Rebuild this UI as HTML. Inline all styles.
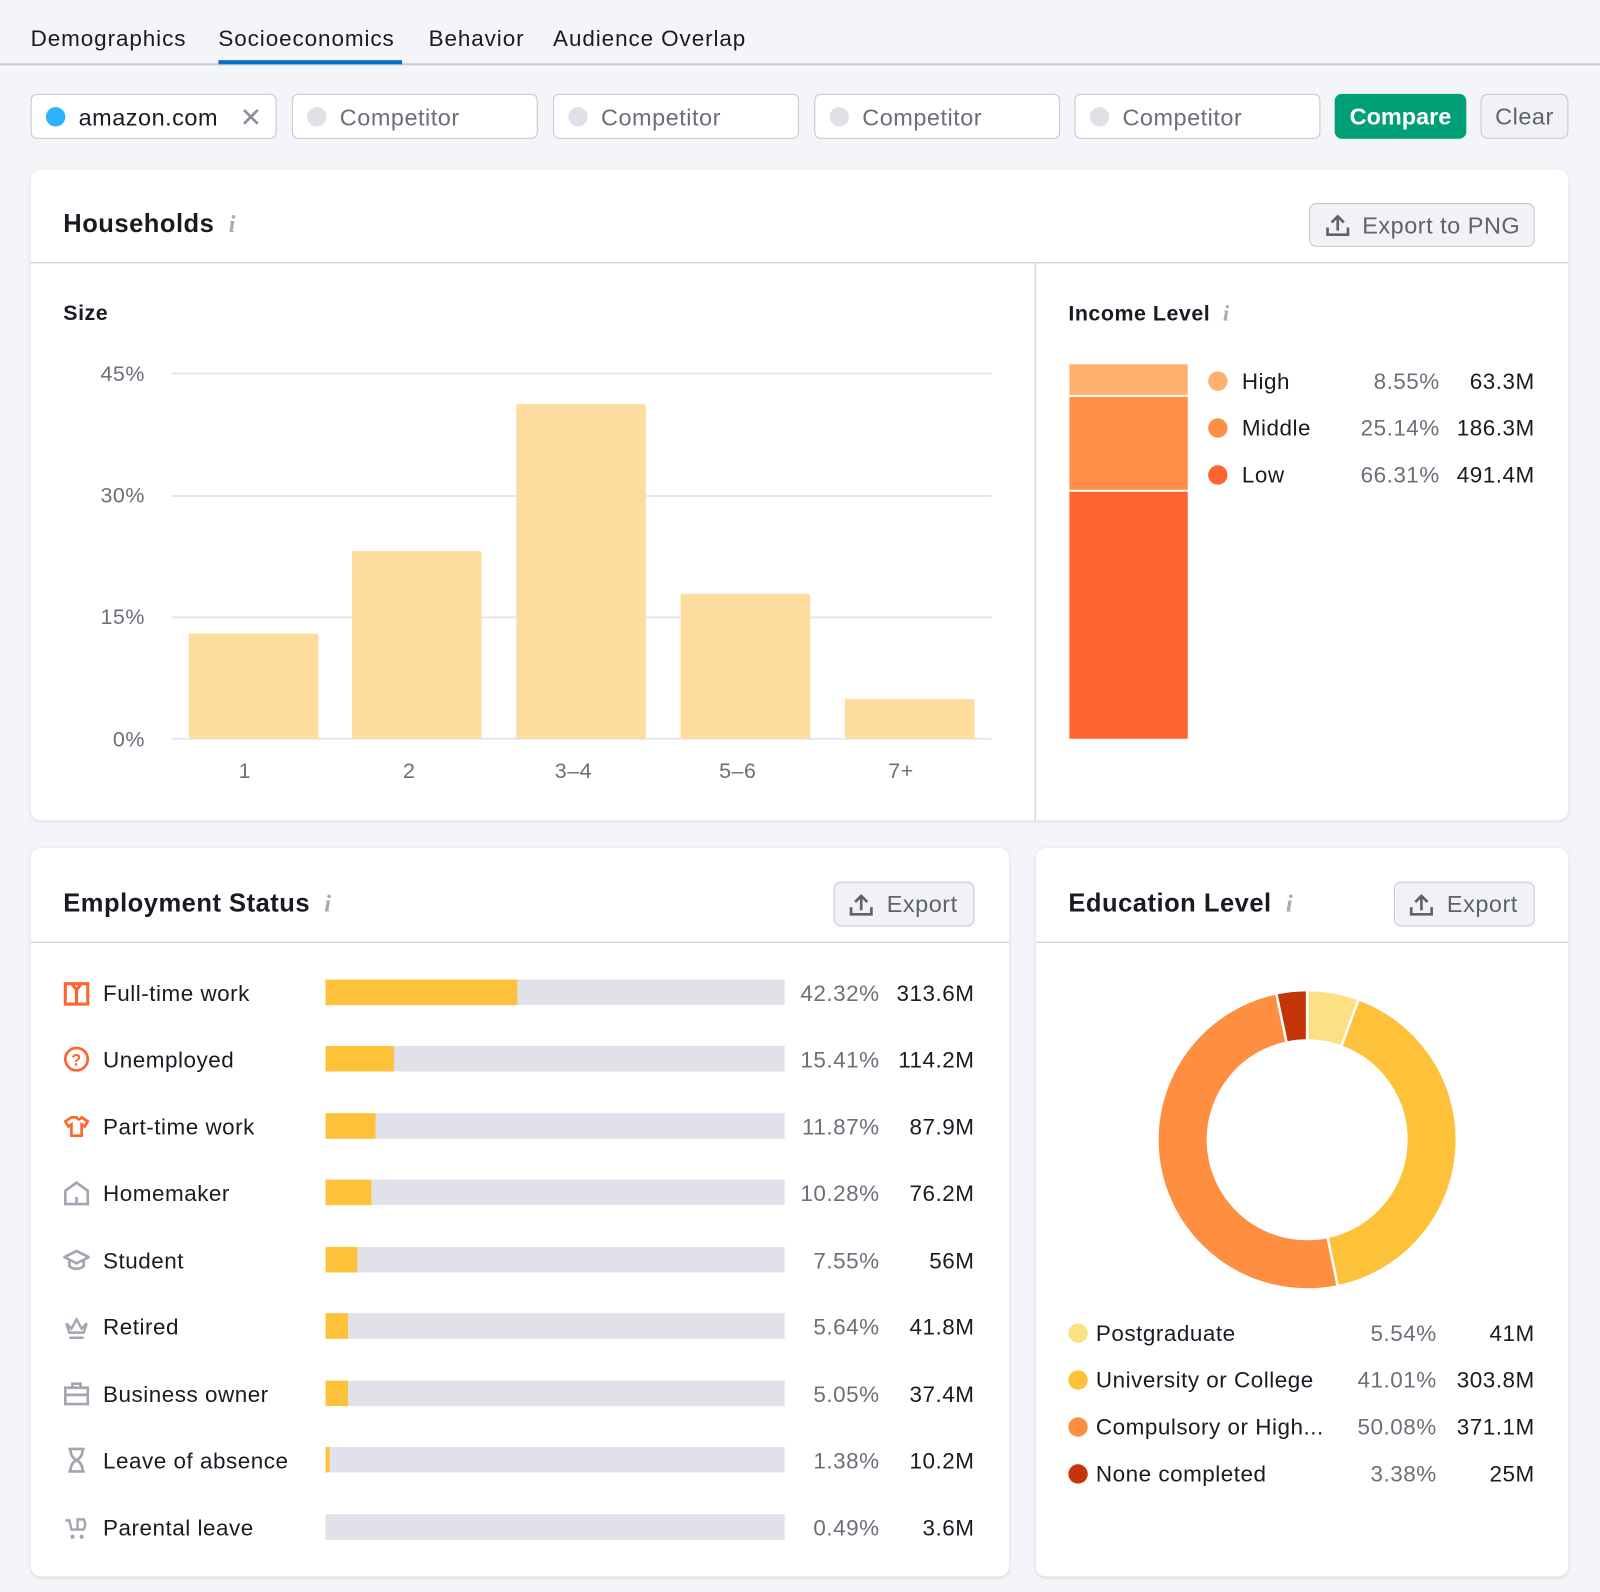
<!DOCTYPE html>
<html><head><meta charset="utf-8"><style>
*{margin:0;padding:0;box-sizing:border-box}
html,body{width:1600px;height:1592px;overflow:hidden;background:#f4f5f9}
#w{position:absolute;left:0;top:0;width:1568px;height:1560px;transform:scale(1.0204);transform-origin:0 0;font-family:"Liberation Sans",sans-serif;color:#191b23;letter-spacing:0.5px}
.a{position:absolute}
.t{position:absolute;white-space:nowrap;line-height:1;transform:translateY(-50%)}
.r{text-align:right}
.card{position:absolute;background:#fff;border-radius:10px;box-shadow:0 1px 3px rgba(0,0,0,.12)}
.hl{position:absolute;height:1px;background:#c4c7d0}
.inp{position:absolute;top:92px;height:44px;width:241px;background:#fff;border:1px solid #c4c7d0;border-radius:6px}
.inp .d{position:absolute;left:14px;top:12px;width:19px;height:19px;border-radius:50%;background:#dfe0e8}
.inp span{position:absolute;left:46px;top:9px;font-size:23px;color:#6c6e79}
.btn{position:absolute;background:#f1f2f6;border:1px solid #c4c7d0;border-radius:7px;color:#5f616d;font-size:23px}
.g{color:#6c6e79}
.bt{font-weight:bold;font-size:25px}
.info{font-style:italic;color:#a8aab4;font-family:"Liberation Serif",serif;font-size:24px}
.track{position:absolute;left:319px;width:450px;height:25px;background:#e0e1e9}
.track i{position:absolute;left:0;top:0;bottom:0;background:#fdc13a}
.dot{position:absolute;width:19px;height:19px;border-radius:50%}
</style></head><body><div id="w">
<div class="t" style="left:30px;top:38px;font-size:22px;letter-spacing:0.9px">Demographics</div>
<div class="t" style="left:214px;top:38px;font-size:22px;letter-spacing:0.9px">Socioeconomics</div>
<div class="t" style="left:420px;top:38px;font-size:22px;letter-spacing:0.9px">Behavior</div>
<div class="t" style="left:542px;top:38px;font-size:22px;letter-spacing:0.9px">Audience Overlap</div>
<div class="a" style="left:0;top:62px;width:1568px;height:2px;background:#c9ccd4"></div>
<div class="a" style="left:214px;top:59px;width:180px;height:4px;background:#006dca"></div>
<div class="inp" style="left:30px"><div class="d" style="background:#2bb3ff"></div><span style="color:#191b23">amazon.com</span><span style="left:204px;top:7px;font-size:26px;color:#8b8d98">✕</span></div>
<div class="inp" style="left:286px"><div class="d"></div><span>Competitor</span></div>
<div class="inp" style="left:542px"><div class="d"></div><span>Competitor</span></div>
<div class="inp" style="left:798px"><div class="d"></div><span>Competitor</span></div>
<div class="inp" style="left:1053px"><div class="d"></div><span>Competitor</span></div>
<div class="a" style="left:1308px;top:92px;width:129px;height:44px;background:#009f76;border-radius:7px;color:#fff;font-weight:bold;font-size:23px;text-align:center;line-height:44px;letter-spacing:0">Compare</div>
<div class="btn" style="left:1451px;top:92px;width:86px;height:44px;text-align:center;line-height:42px">Clear</div>

<div class="card" style="left:30px;top:166px;width:1507px;height:638px"></div>
<div class="t bt" style="left:62px;top:220px">Households <span class="info">&nbsp;i</span></div>
<div class="btn" style="left:1283px;top:199px;width:221px;height:43px"><svg class="a" style="left:14px;top:9px" width="26" height="24" viewBox="0 0 26 24"><path d="M13 17V3M7 9l6-6 6 6M3 14v7h20v-7" fill="none" stroke="#5f616d" stroke-width="2.6"/></svg><span class="a" style="left:51px;top:8px">Export to PNG</span></div>
<div class="hl" style="left:30px;top:257px;width:1507px"></div>
<div class="a" style="left:1014px;top:258px;width:1px;height:546px;background:#c4c7d0"></div>
<div class="t" style="left:62px;top:307px;font-weight:bold;font-size:21px">Size</div>
<div class="a" style="left:168px;top:365px;width:804px;height:2px;background:#e6e7ec"></div>
<div class="a" style="left:168px;top:485px;width:804px;height:2px;background:#e6e7ec"></div>
<div class="a" style="left:168px;top:604px;width:804px;height:2px;background:#e6e7ec"></div>
<div class="a" style="left:168px;top:723px;width:804px;height:2px;background:#e6e7ec"></div>
<div class="t r g" style="left:80px;width:62px;top:367px;font-size:21px">45%</div>
<div class="t r g" style="left:80px;width:62px;top:486px;font-size:21px">30%</div>
<div class="t r g" style="left:80px;width:62px;top:605px;font-size:21px">15%</div>
<div class="t r g" style="left:80px;width:62px;top:725px;font-size:21px">0%</div>
<div class="a" style="left:185px;top:621px;width:127px;height:103px;background:#fddc9e;border-radius:2px 2px 0 0"></div>
<div class="a" style="left:345px;top:540px;width:127px;height:184px;background:#fddc9e;border-radius:2px 2px 0 0"></div>
<div class="a" style="left:506px;top:396px;width:127px;height:328px;background:#fddc9e;border-radius:2px 2px 0 0"></div>
<div class="a" style="left:667px;top:582px;width:127px;height:142px;background:#fddc9e;border-radius:2px 2px 0 0"></div>
<div class="a" style="left:828px;top:685px;width:127px;height:39px;background:#fddc9e;border-radius:2px 2px 0 0"></div>
<div class="t g" style="left:185px;width:110px;top:756px;font-size:21px;text-align:center">1</div>
<div class="t g" style="left:345px;width:112px;top:756px;font-size:21px;text-align:center">2</div>
<div class="t g" style="left:506px;width:112px;top:756px;font-size:21px;text-align:center">3–4</div>
<div class="t g" style="left:667px;width:112px;top:756px;font-size:21px;text-align:center">5–6</div>
<div class="t g" style="left:828px;width:110px;top:756px;font-size:21px;text-align:center">7+</div>
<div class="t" style="left:1047px;top:307px;font-weight:bold;font-size:21px">Income Level <span class="info" style="font-size:22px">&nbsp;i</span></div>
<div class="a" style="left:1048px;top:357px;width:116px;height:30px;background:#ffb06e"></div>
<div class="a" style="left:1048px;top:389px;width:116px;height:91px;background:#ff8f45"></div>
<div class="a" style="left:1048px;top:482px;width:116px;height:242px;background:#ff6430"></div>
<div class="dot" style="left:1184px;top:364px;background:#ffb06e"></div>
<div class="dot" style="left:1184px;top:410px;background:#ff8f45"></div>
<div class="dot" style="left:1184px;top:456px;background:#ff6430"></div>
<div class="t" style="left:1217px;top:374px;font-size:22px">High</div>
<div class="t" style="left:1217px;top:420px;font-size:22px">Middle</div>
<div class="t" style="left:1217px;top:466px;font-size:22px">Low</div>
<div class="t r g" style="left:1300px;width:111px;top:374px;font-size:22px">8.55%</div>
<div class="t r g" style="left:1300px;width:111px;top:420px;font-size:22px">25.14%</div>
<div class="t r g" style="left:1300px;width:111px;top:466px;font-size:22px">66.31%</div>
<div class="t r" style="left:1404px;width:100px;top:374px;font-size:22px">63.3M</div>
<div class="t r" style="left:1404px;width:100px;top:420px;font-size:22px">186.3M</div>
<div class="t r" style="left:1404px;width:100px;top:466px;font-size:22px">491.4M</div>

<div class="card" style="left:30px;top:831px;width:959px;height:714px"></div>
<div class="t bt" style="left:62px;top:886px">Employment Status <span class="info">&nbsp;i</span></div>
<div class="btn" style="left:817px;top:864px;width:138px;height:44px"><svg class="a" style="left:13px;top:10px" width="26" height="24" viewBox="0 0 26 24"><path d="M13 17V3M7 9l6-6 6 6M3 14v7h20v-7" fill="none" stroke="#5f616d" stroke-width="2.6"/></svg><span class="a" style="left:51px;top:8px">Export</span></div>
<div class="hl" style="left:30px;top:923px;width:959px"></div>

<svg class="a" style="left:62px;top:961px" width="26" height="26" viewBox="0 0 26 26"><rect x="2" y="3" width="22" height="20" fill="none" stroke="#ff642f" stroke-width="3"/><path d="M8 3l5 6 5-6M13 9v14" fill="none" stroke="#ff642f" stroke-width="3"/></svg>
<svg class="a" style="left:62px;top:1025px" width="26" height="26" viewBox="0 0 26 26"><circle cx="13" cy="13" r="11" fill="none" stroke="#ff642f" stroke-width="2.6"/><text x="13" y="19" font-size="16" font-weight="bold" text-anchor="middle" fill="#ff642f" font-family="Liberation Sans">?</text></svg>
<svg class="a" style="left:62px;top:1091px" width="26" height="26" viewBox="0 0 26 26"><path d="M8 4L2 8l3 5 3-2v11h10V11l3 2 3-5-6-4q-3 4-5 0z" fill="none" stroke="#ff642f" stroke-width="2.6"/></svg>
<svg class="a" style="left:62px;top:1156px" width="26" height="26" viewBox="0 0 26 26"><path d="M2 24V11L13 3l11 8v13H2zM13 24v-7" fill="none" stroke="#a3a6b1" stroke-width="2.6"/></svg>
<svg class="a" style="left:62px;top:1222px" width="26" height="26" viewBox="0 0 26 26"><path d="M1 10l12-6 12 6-12 6zM6 13v6q7 5 14 0v-6" fill="none" stroke="#a3a6b1" stroke-width="2.6"/></svg>
<svg class="a" style="left:62px;top:1287px" width="26" height="26" viewBox="0 0 26 26"><path d="M3 10l5 5 5-9 5 9 5-5-3 9H6zM6 24h14" fill="none" stroke="#a3a6b1" stroke-width="2.4"/></svg>
<svg class="a" style="left:62px;top:1353px" width="26" height="26" viewBox="0 0 26 26"><path d="M2 7h22v16H2zM9 7V3h8v4M2 14h22" fill="none" stroke="#a3a6b1" stroke-width="2.6"/></svg>
<svg class="a" style="left:62px;top:1418px" width="26" height="26" viewBox="0 0 26 26"><path d="M5 2h16M5 24h16M7 2q0 8 6 11-6 3-6 11M19 2q0 8-6 11 6 3 6 11" fill="none" stroke="#a3a6b1" stroke-width="2.6"/></svg>
<svg class="a" style="left:62px;top:1484px" width="26" height="26" viewBox="0 0 26 26"><path d="M2 6h4l2 9h12q3-5 0-10h-6v10" fill="none" stroke="#a3a6b1" stroke-width="2.4"/><circle cx="9" cy="22" r="2" fill="#a3a6b1"/><circle cx="18" cy="22" r="2" fill="#a3a6b1"/></svg>

<div class="t" style="left:101px;top:974px;font-size:22px">Full-time work</div>
<div class="t" style="left:101px;top:1039px;font-size:22px">Unemployed</div>
<div class="t" style="left:101px;top:1105px;font-size:22px">Part-time work</div>
<div class="t" style="left:101px;top:1170px;font-size:22px">Homemaker</div>
<div class="t" style="left:101px;top:1236px;font-size:22px">Student</div>
<div class="t" style="left:101px;top:1301px;font-size:22px">Retired</div>
<div class="t" style="left:101px;top:1367px;font-size:22px">Business owner</div>
<div class="t" style="left:101px;top:1432px;font-size:22px">Leave of absence</div>
<div class="t" style="left:101px;top:1498px;font-size:22px">Parental leave</div>

<div class="track" style="top:960px"><i style="width:188px"></i></div>
<div class="track" style="top:1025px"><i style="width:67px"></i></div>
<div class="track" style="top:1091px"><i style="width:49px"></i></div>
<div class="track" style="top:1156px"><i style="width:45px"></i></div>
<div class="track" style="top:1222px"><i style="width:31px"></i></div>
<div class="track" style="top:1287px"><i style="width:22px"></i></div>
<div class="track" style="top:1353px"><i style="width:22px"></i></div>
<div class="track" style="top:1418px"><i style="width:4px"></i></div>
<div class="track" style="top:1484px"></div>

<div class="t r g" style="left:760px;width:102px;top:974px;font-size:22px">42.32%</div>
<div class="t r g" style="left:760px;width:102px;top:1039px;font-size:22px">15.41%</div>
<div class="t r g" style="left:760px;width:102px;top:1105px;font-size:22px">11.87%</div>
<div class="t r g" style="left:760px;width:102px;top:1170px;font-size:22px">10.28%</div>
<div class="t r g" style="left:760px;width:102px;top:1236px;font-size:22px">7.55%</div>
<div class="t r g" style="left:760px;width:102px;top:1301px;font-size:22px">5.64%</div>
<div class="t r g" style="left:760px;width:102px;top:1367px;font-size:22px">5.05%</div>
<div class="t r g" style="left:760px;width:102px;top:1432px;font-size:22px">1.38%</div>
<div class="t r g" style="left:760px;width:102px;top:1498px;font-size:22px">0.49%</div>
<div class="t r" style="left:855px;width:100px;top:974px;font-size:22px">313.6M</div>
<div class="t r" style="left:855px;width:100px;top:1039px;font-size:22px">114.2M</div>
<div class="t r" style="left:855px;width:100px;top:1105px;font-size:22px">87.9M</div>
<div class="t r" style="left:855px;width:100px;top:1170px;font-size:22px">76.2M</div>
<div class="t r" style="left:855px;width:100px;top:1236px;font-size:22px">56M</div>
<div class="t r" style="left:855px;width:100px;top:1301px;font-size:22px">41.8M</div>
<div class="t r" style="left:855px;width:100px;top:1367px;font-size:22px">37.4M</div>
<div class="t r" style="left:855px;width:100px;top:1432px;font-size:22px">10.2M</div>
<div class="t r" style="left:855px;width:100px;top:1498px;font-size:22px">3.6M</div>

<div class="card" style="left:1015px;top:831px;width:522px;height:714px"></div>
<div class="t bt" style="left:1047px;top:886px">Education Level <span class="info">&nbsp;i</span></div>
<div class="btn" style="left:1366px;top:864px;width:138px;height:44px"><svg class="a" style="left:13px;top:10px" width="26" height="24" viewBox="0 0 26 24"><path d="M13 17V3M7 9l6-6 6 6M3 14v7h20v-7" fill="none" stroke="#5f616d" stroke-width="2.6"/></svg><span class="a" style="left:51px;top:8px">Export</span></div>
<div class="hl" style="left:1015px;top:923px;width:522px"></div>
<svg class="a" style="left:1131px;top:967px" width="300" height="300" viewBox="0 0 300 300">
<g transform="rotate(-90 150 150)" fill="none" stroke-width="47">
<circle cx="150" cy="150" r="122" stroke="#fbe084" stroke-dasharray="42.47 766.55" stroke-dashoffset="0"/>
<circle cx="150" cy="150" r="122" stroke="#fdc13a" stroke-dasharray="314.36 766.55" stroke-dashoffset="-42.47"/>
<circle cx="150" cy="150" r="122" stroke="#ff8f40" stroke-dasharray="383.89 766.55" stroke-dashoffset="-356.83"/>
<circle cx="150" cy="150" r="122" stroke="#c4360a" stroke-dasharray="25.91 766.55" stroke-dashoffset="-740.72"/>
</g>
<g stroke="#fff" stroke-width="2.5">
<line x1="150" y1="150" x2="150" y2="0"/>
<line x1="150" y1="150" x2="202" y2="8"/>
<line x1="150" y1="150" x2="181" y2="298"/>
<line x1="150" y1="150" x2="119" y2="3"/>
</g>
<circle cx="150" cy="150" r="98" fill="#fff"/>
</svg>
<div class="dot" style="left:1047px;top:1297px;background:#fbe084"></div>
<div class="dot" style="left:1047px;top:1343px;background:#fdc13a"></div>
<div class="dot" style="left:1047px;top:1389px;background:#ff8f40"></div>
<div class="dot" style="left:1047px;top:1435px;background:#c4360a"></div>
<div class="t" style="left:1074px;top:1307px;font-size:22px">Postgraduate</div>
<div class="t" style="left:1074px;top:1353px;font-size:22px">University or College</div>
<div class="t" style="left:1074px;top:1399px;font-size:22px">Compulsory or High...</div>
<div class="t" style="left:1074px;top:1445px;font-size:22px">None completed</div>
<div class="t r g" style="left:1310px;width:98px;top:1307px;font-size:22px">5.54%</div>
<div class="t r g" style="left:1310px;width:98px;top:1353px;font-size:22px">41.01%</div>
<div class="t r g" style="left:1310px;width:98px;top:1399px;font-size:22px">50.08%</div>
<div class="t r g" style="left:1310px;width:98px;top:1445px;font-size:22px">3.38%</div>
<div class="t r" style="left:1404px;width:100px;top:1307px;font-size:22px">41M</div>
<div class="t r" style="left:1404px;width:100px;top:1353px;font-size:22px">303.8M</div>
<div class="t r" style="left:1404px;width:100px;top:1399px;font-size:22px">371.1M</div>
<div class="t r" style="left:1404px;width:100px;top:1445px;font-size:22px">25M</div>
</div></body></html>
